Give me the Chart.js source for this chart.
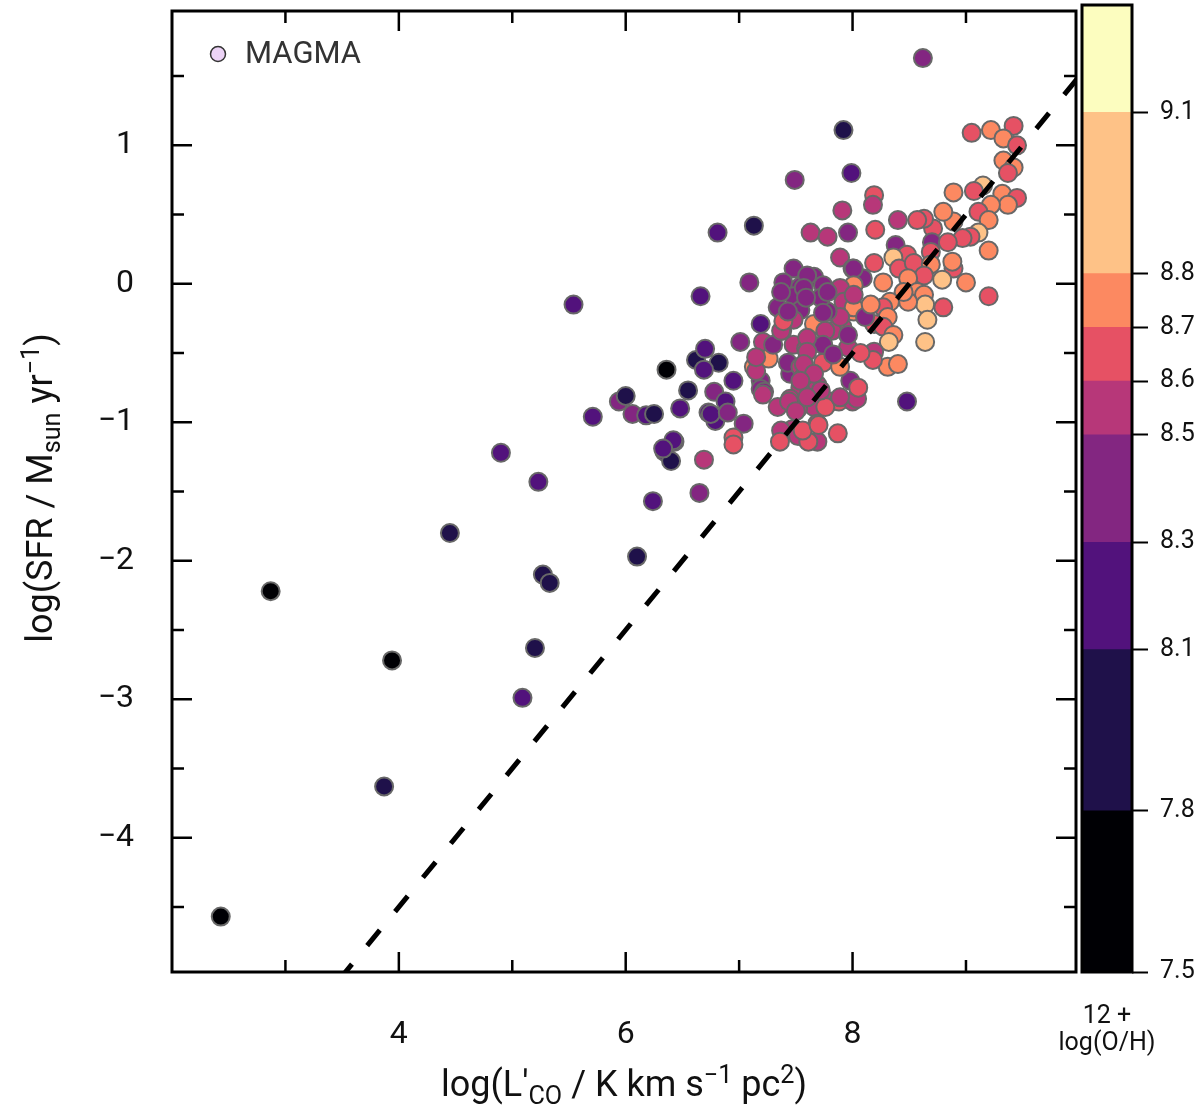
<!DOCTYPE html>
<html>
<head>
<meta charset="utf-8">
<script src="https://cdn.jsdelivr.net/npm/chart.js@4.4.1/dist/chart.umd.min.js"></script>
<style>
  body { margin: 0; background: #fff; }
  #wrap { position: relative; width: 1200px; height: 1118px; font-family: Roboto, sans-serif; color: #111; }
  #main { position: absolute; left: 0; top: 0; }
  #cbar { position: absolute; left: 1075px; top: 0; }
  #xtitle { position: absolute; left: 0; width: 1248px; top: 1062px; text-align: center; font-size: 36px; line-height: 44px; }
  #ytitle { position: absolute; left: -310px; top: 466px; width: 700px; height: 44px; line-height: 44px; text-align: center; font-size: 36px; transform: rotate(-90deg); }
  #cbtitle { position: absolute; left: 1047px; width: 120px; top: 1001px; text-align: center; font-size: 25px; line-height: 27px; }
  sub, sup { font-size: 70%; line-height: 0; }
</style>
</head>
<body>
<div id="wrap">
  <canvas id="main" width="1200" height="1118"></canvas>
  <canvas id="cbar" width="125" height="1118"></canvas>
  <div id="xtitle">log(L'<sub>CO</sub> / K km s<sup>−1</sup> pc<sup>2</sup>)</div>
  <div id="ytitle">log(SFR / M<sub>sun</sub> yr<sup>−1</sup>)</div>
  <div id="cbtitle">12 +<br>log(O/H)</div>
</div>
<script>
'use strict';

// log L'CO for each galaxy
let lco = [
  2.43, 2.87, 3.94, 3.87, 4.45, 4.90, 5.23, 5.27, 5.33, 5.20,
  5.09, 5.54, 6.10, 6.24, 5.71, 6.65, 6.69, 6.43, 6.34, 6.40,
  8.62, 7.92, 7.99, 7.49, 6.81, 7.13, 6.66, 7.09, 7.19, 8.48,
  6.36, 6.62, 6.70, 6.82, 6.69, 6.55, 6.78, 6.88, 6.73, 6.79,
  7.04, 6.95, 6.95, 6.48, 5.94, 6.00, 6.06, 6.18, 6.25, 6.42,
  6.33, 7.01, 7.21, 7.13, 7.26, 7.19, 7.19, 6.95, 6.75, 6.90,
  7.34, 7.34, 7.15, 7.15, 7.22, 7.47, 7.69, 7.45, 7.54, 7.66,
  7.48, 7.66, 7.89, 8.00, 7.39, 7.54, 7.74, 7.48, 7.54, 7.91,
  8.01, 7.66, 7.48, 7.38, 7.48, 7.59, 7.74, 7.91, 7.82, 7.96,
  7.43, 7.54, 7.74, 7.69, 7.57, 7.98, 7.89, 7.81, 7.45, 7.52,
  7.37, 7.52, 7.69, 7.88, 7.87, 8.00, 7.30, 7.36, 7.61, 7.56,
  7.70, 7.76, 8.04, 7.21, 7.44, 7.50, 9.05, 9.22, 9.42, 9.33,
  9.45, 9.33, 9.42, 9.37, 9.15, 8.89, 9.07, 9.32, 9.45, 9.37,
  9.22, 9.11, 9.20, 9.11, 9.04, 9.20, 8.97, 8.89, 8.80, 8.71,
  8.63, 8.57, 8.40, 8.20, 8.19, 8.18, 7.91, 7.63, 7.78, 7.96,
  8.38, 8.48, 8.36, 8.41, 8.54, 8.70, 8.69, 8.84, 8.89, 8.79,
  9.00, 9.20, 8.88, 8.69, 8.63, 8.49, 8.27, 8.57, 8.63, 8.64,
  8.80, 8.66, 8.64, 8.49, 8.45, 8.33, 8.27, 8.31, 8.19, 8.27,
  8.36, 8.32, 8.19, 8.31, 8.40, 8.18, 8.07, 8.05, 7.89, 8.09,
  8.19, 8.01, 8.01, 7.89, 7.92, 8.01, 8.11, 8.16, 7.89, 7.78,
  7.76, 7.96, 7.74, 7.60, 7.60, 7.57, 7.83, 7.66, 7.54, 7.72,
  7.60, 7.37, 7.39, 7.43, 7.37, 7.60, 7.57, 7.72, 7.78, 7.59,
  7.74, 8.01
];

// log SFR for each galaxy
let sfr = [
  -4.57, -2.22, -2.72, -3.63, -1.80, -1.22, -1.43, -2.10, -2.16, -2.63,
  -2.99, -0.15, -1.97, -1.57, -0.96, -1.51, -1.27, -1.14, -1.21, -1.28,
  1.63, 1.11, 0.80, 0.75, 0.37, 0.42, -0.09, 0.01, -0.29, -0.85,
  -0.62, -0.55, -0.47, -0.57, -0.62, -0.77, -0.78, -0.85, -0.93, -0.99,
  -1.01, -1.11, -1.16, -0.90, -0.85, -0.81, -0.94, -0.95, -0.94, -1.13,
  -1.19, -0.42, -0.42, -0.60, -0.54, -0.70, -0.76, -0.70, -0.94, -0.93,
  -0.17, -0.89, -0.63, -0.53, -0.78, -1.05, -1.14, -0.65, -0.75, -0.89,
  0.11, 0.05, 0.19, 0.11, 0.01, -0.02, -0.01, -0.09, -0.19, -0.04,
  -0.20, -0.29, -0.26, -0.34, -0.44, -0.47, -0.44, -0.31, -0.34, -0.46,
  -0.57, -0.60, -0.57, -0.73, -0.67, -0.70, -0.60, -0.85, -0.83, -0.90,
  -1.06, -1.10, -1.01, -0.85, -1.08, -0.85, -0.44, -1.14, -1.14, -1.06,
  -1.02, -0.89, -0.83, -0.80, -0.85, -0.92, 1.09, 1.11, 1.14, 1.05,
  1.00, 0.89, 0.84, 0.80, 0.71, 0.66, 0.67, 0.65, 0.62, 0.57,
  0.57, 0.52, 0.46, 0.37, 0.34, 0.24, 0.33, 0.45, 0.52, 0.40,
  0.47, 0.46, 0.46, 0.39, 0.64, 0.57, 0.53, 0.37, 0.34, 0.37,
  0.28, 0.21, 0.19, 0.11, 0.15, 0.30, 0.23, 0.30, 0.11, 0.03,
  0.01, -0.09, 0.16, 0.14, 0.06, 0.04, 0.01, -0.06, -0.08, -0.15,
  -0.17, -0.26, -0.42, -0.13, -0.06, -0.13, -0.17, -0.24, -0.29, -0.31,
  -0.37, -0.42, -0.49, -0.60, -0.58, -0.55, -0.50, -0.75, -0.82, 0.04,
  0.15, 0.11, -0.01, -0.03, -0.13, -0.17, -0.24, -0.15, -0.24, -0.20,
  -0.34, -0.37, -0.44, -0.39, -0.49, -0.58, -0.51, -0.65, -0.70, -0.77,
  -0.82, -0.34, -0.27, -0.20, -0.06, 0.06, -0.03, -0.10, -0.06, -0.10,
  -0.21, -0.08
];

// metallicity 12 + log(O/H)
let oh = [
  7.65, 7.65, 7.65, 7.95, 7.95, 8.2, 8.2, 7.95, 7.95, 7.95,
  8.2, 8.2, 7.95, 8.2, 8.2, 8.4, 8.55, 8.2, 8.2, 7.95,
  8.4, 7.95, 8.2, 8.4, 8.2, 7.95, 8.2, 8.4, 8.2, 8.2,
  7.65, 7.95, 8.2, 7.95, 8.2, 7.95, 8.4, 8.2, 8.2, 8.2,
  8.4, 8.65, 8.65, 8.2, 8.4, 7.95, 8.4, 8.2, 7.95, 8.2,
  8.2, 8.4, 8.55, 8.75, 8.75, 8.4, 8.4, 8.2, 8.2, 8.4,
  8.4, 8.55, 8.55, 8.55, 8.4, 8.55, 8.55, 8.4, 8.55, 8.55,
  8.4, 8.4, 8.55, 8.65, 8.4, 8.4, 8.4, 8.4, 8.4, 8.55,
  8.75, 8.75, 8.55, 8.65, 8.55, 8.55, 8.55, 8.55, 8.55, 8.55,
  8.4, 8.55, 8.65, 8.55, 8.55, 8.4, 8.75, 8.55, 8.55, 8.55,
  8.55, 8.55, 8.65, 8.65, 8.65, 8.55, 8.4, 8.65, 8.65, 8.65,
  8.65, 8.65, 8.55, 8.55, 8.55, 8.55, 8.65, 8.75, 8.65, 8.75,
  8.65, 8.75, 8.75, 8.65, 8.95, 8.75, 8.65, 8.75, 8.65, 8.75,
  8.75, 8.65, 8.75, 8.95, 8.65, 8.75, 8.65, 8.75, 8.75, 8.65,
  8.65, 8.65, 8.55, 8.65, 8.65, 8.55, 8.55, 8.55, 8.55, 8.4,
  8.4, 8.65, 8.95, 8.65, 8.65, 8.4, 8.65, 8.65, 8.65, 8.95,
  8.75, 8.65, 8.75, 8.75, 8.65, 8.75, 8.75, 8.75, 8.75, 8.95,
  8.65, 8.95, 8.95, 8.75, 8.75, 8.75, 8.65, 8.75, 8.65, 8.65,
  8.75, 8.95, 8.55, 8.75, 8.75, 8.65, 8.65, 8.65, 8.55, 8.4,
  8.65, 8.4, 8.75, 8.55, 8.55, 8.75, 8.4, 8.75, 8.55, 8.4,
  8.55, 8.4, 8.4, 8.55, 8.55, 8.55, 8.4, 8.55, 8.55, 8.55,
  8.55, 8.55, 8.65, 8.4, 8.4, 8.4, 8.4, 8.4, 8.4, 8.4,
  8.4, 8.55
];

// colour bar bins
let ohEdges = [7.5, 7.8, 8.1, 8.3, 8.5, 8.6, 8.7, 8.8, 9.1, 9.3];
let ohColors = ['#000004', '#1f114a', '#52127c', '#832681', '#b73779', '#e65164', '#fc8961', '#fec287', '#fcfdbf'];
let ohTicks = [7.5, 7.8, 8.1, 8.3, 8.5, 8.6, 8.7, 8.8, 9.1];

// axis ticks
let xTicks = [3, 4, 5, 6, 7, 8, 9];
let xLabels = [4, 6, 8];
let yTicks = [-4.5, -4, -3.5, -3, -2.5, -2, -1.5, -1, -0.5, 0, 0.5, 1, 1.5];
let yLabels = [-4, -3, -2, -1, 0, 1];

// dashed relation y = x - 8.5
let fitSlope = 1;
let fitIntercept = -8.5;

let xMin = 2, xMax = 9.97;
let yMin = -4.97, yMax = 1.97;

function ohColor(v) {
  for (let i = 0; i < ohColors.length; i++) {
    if (v < ohEdges[i + 1]) return ohColors[i];
  }
  return ohColors[ohColors.length - 1];
}

let points = [];
let pointColors = [];
for (let i = 0; i < lco.length; i++) {
  points.push({ x: lco[i], y: sfr[i] });
  pointColors.push(ohColor(oh[i]));
}

let fitLine = [xMin, xMax + 0.2].map(x => ({ x: x, y: fitSlope * x + fitIntercept }));

function minusLabel(v) {
  return v < 0 ? '\u2212' + Math.abs(v) : String(v);
}

// kill the extra room chart.js keeps for end labels
function noPad(scale) {
  scale.paddingTop = 0;
  scale.paddingBottom = 0;
  scale.paddingLeft = 0;
  scale.paddingRight = 0;
}

// frame plus inward ticks on all four sides
let frameTicks = {
  id: 'frameTicks',
  afterDraw(chart) {
    let ctx = chart.ctx;
    let a = chart.chartArea;
    let xs = chart.scales.x;
    let ys = chart.scales.y;
    ctx.save();
    ctx.strokeStyle = '#000';
    ctx.lineWidth = 2.5;
    ctx.beginPath();
    xs.ticks.forEach(t => {
      let px = xs.getPixelForValue(t.value);
      let len = xLabels.includes(t.value) ? 20 : 12;
      ctx.moveTo(px, a.bottom); ctx.lineTo(px, a.bottom - len);
      ctx.moveTo(px, a.top); ctx.lineTo(px, a.top + len);
    });
    ys.ticks.forEach(t => {
      let py = ys.getPixelForValue(t.value);
      let len = yLabels.includes(t.value) ? 20 : 12;
      ctx.moveTo(a.left, py); ctx.lineTo(a.left + len, py);
      ctx.moveTo(a.right, py); ctx.lineTo(a.right - len, py);
    });
    ctx.stroke();
    ctx.lineWidth = 3;
    ctx.strokeRect(a.left, a.top, a.right - a.left, a.bottom - a.top);

    // legend entry
    ctx.beginPath();
    ctx.arc(a.left + 46, a.top + 43, 7.5, 0, Math.PI * 2);
    ctx.fillStyle = '#ecd3f6';
    ctx.fill();
    ctx.lineWidth = 1.5;
    ctx.strokeStyle = '#333';
    ctx.stroke();
    ctx.fillStyle = '#333';
    ctx.font = '31px Roboto';
    ctx.textBaseline = 'middle';
    ctx.fillText('MAGMA', a.left + 73, a.top + 44);
    ctx.restore();
  }
};

let ctx = document.getElementById('main').getContext('2d');
let tickFont = { family: 'Roboto', size: 32 };

let mainChart = new Chart(ctx, {
  type: 'scatter',
  data: {
    datasets: [{
      type: 'line',
      data: fitLine,
      borderColor: '#000',
      borderWidth: 5,
      borderDash: [20, 24],
      pointRadius: 0,
      fill: false,
      order: 0
    }, {
      label: 'MAGMA',
      data: points,
      pointRadius: 9,
      pointBorderWidth: 2,
      pointBackgroundColor: pointColors,
      pointBorderColor: '#686868',
      order: 1
    }]
  },
  options: {
    responsive: false,
    animation: false,
    layout: { padding: { left: 0, right: 124, top: 5, bottom: 0 } },
    plugins: { legend: { display: false }, tooltip: { enabled: false } },
    scales: {
      x: {
        type: 'linear',
        min: xMin,
        max: xMax,
        afterBuildTicks(scale) { scale.ticks = xTicks.map(v => ({ value: v })); },
        afterFit(scale) { scale.height = 146; noPad(scale); },
        grid: { display: false, drawTicks: false },
        border: { display: false },
        ticks: {
          padding: 44,
          font: tickFont,
          color: '#111',
          autoSkip: false,
          maxRotation: 0,
          callback: v => xLabels.includes(v) ? minusLabel(v) : ''
        }
      },
      y: {
        type: 'linear',
        min: yMin,
        max: yMax,
        afterBuildTicks(scale) { scale.ticks = yTicks.map(v => ({ value: v })); },
        afterFit(scale) { scale.width = 172; noPad(scale); },
        grid: { display: false, drawTicks: false },
        border: { display: false },
        ticks: {
          padding: 38,
          font: tickFont,
          color: '#111',
          autoSkip: false,
          callback: v => yLabels.includes(v) ? minusLabel(v) : ''
        }
      }
    }
  },
  plugins: [frameTicks]
});

// colour bar, one floating bar per bin
let cbFrame = {
  id: 'cbFrame',
  afterDraw(chart) {
    let a = chart.chartArea;
    let c = chart.ctx;
    c.save();
    c.strokeStyle = '#000';
    c.lineWidth = 3;
    c.strokeRect(a.left, a.top, a.right - a.left, a.bottom - a.top);
    c.restore();
  }
};

let cbDatasets = [];
for (let i = 0; i < ohColors.length; i++) {
  cbDatasets.push({
    data: [[ohEdges[i], ohEdges[i + 1]]],
    backgroundColor: ohColors[i],
    borderWidth: 0,
    grouped: false,
    barPercentage: 1,
    categoryPercentage: 1
  });
}

let cbChart = new Chart(document.getElementById('cbar').getContext('2d'), {
  type: 'bar',
  data: { labels: [''], datasets: cbDatasets },
  options: {
    responsive: false,
    animation: false,
    layout: { padding: { left: 7, right: 0, top: 5, bottom: 146 } },
    plugins: { legend: { display: false }, tooltip: { enabled: false } },
    scales: {
      x: { display: false },
      y: {
        position: 'right',
        min: ohEdges[0],
        max: ohEdges[ohEdges.length - 1],
        afterBuildTicks(scale) { scale.ticks = ohTicks.map(v => ({ value: v })); },
        afterFit(scale) { scale.width = 68; noPad(scale); },
        grid: { drawOnChartArea: false, tickLength: 16, tickWidth: 2, tickColor: '#000' },
        border: { display: false },
        ticks: {
          padding: 12,
          font: { family: 'Roboto', size: 25 },
          color: '#111',
          callback: v => v.toFixed(1)
        }
      }
    }
  },
  plugins: [cbFrame]
});
</script>
</body>
</html>
